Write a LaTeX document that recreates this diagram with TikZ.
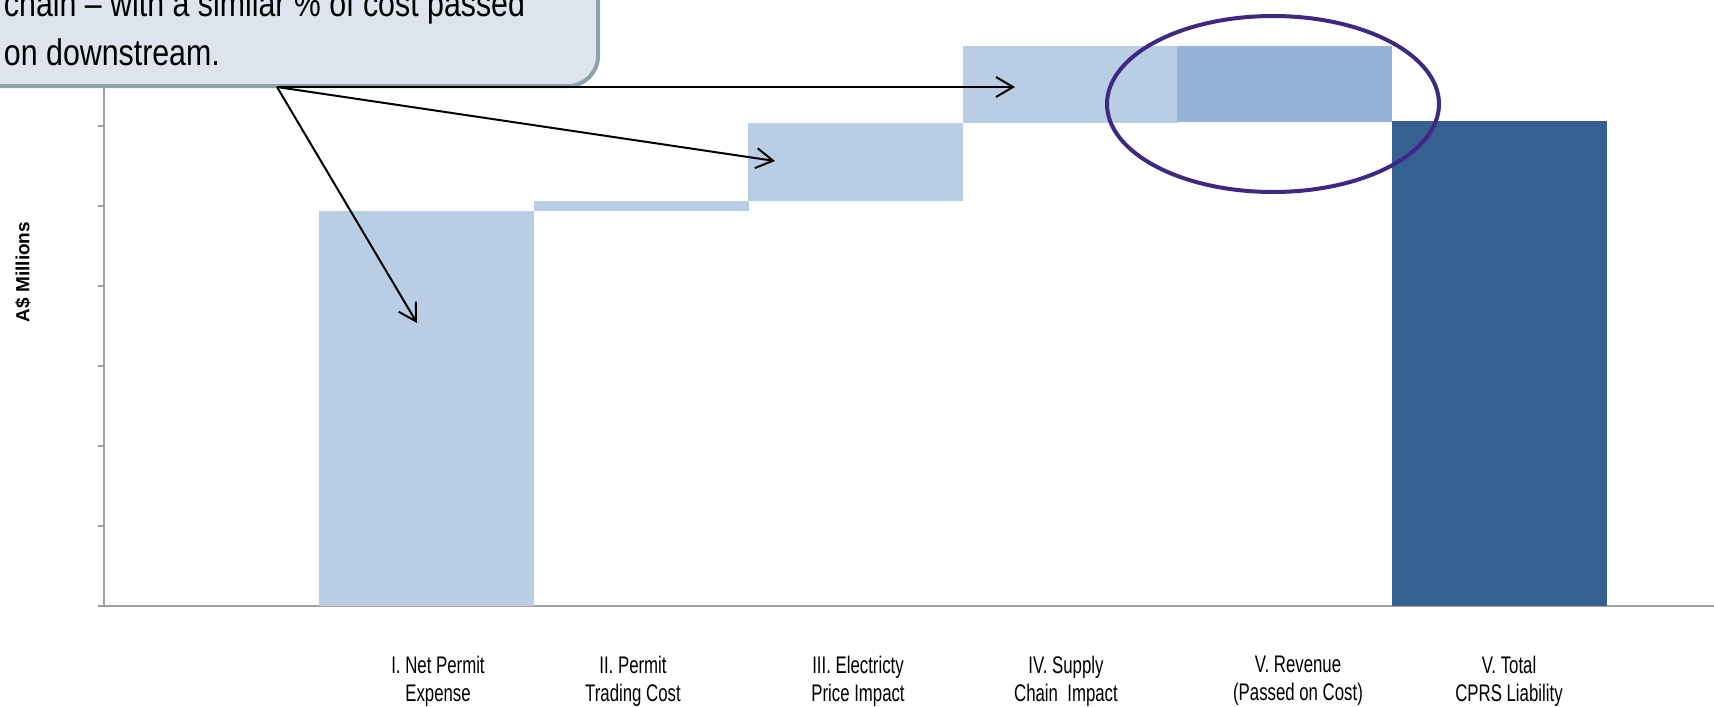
\documentclass[tikz,border=0pt]{standalone}
\usepackage{fontspec}
\setmainfont{Liberation Sans}
\newfontfamily\narrowfont[FakeStretch=0.82]{Liberation Sans}
\newfontfamily\labelfont[FakeStretch=0.70]{Liberation Sans}
\usetikzlibrary{arrows.meta}
\usepackage{xcolor}
\definecolor{barlight}{RGB}{185,205,229}
\definecolor{barmid}{RGB}{149,179,215}
\definecolor{bardark}{RGB}{55,96,146}
\definecolor{notefill}{RGB}{222,228,238}
\definecolor{noteedge}{RGB}{141,164,167}
\definecolor{ringpurple}{RGB}{62,40,132}
\definecolor{axisgray}{RGB}{160,160,160}

\begin{document}
\begin{tikzpicture}[x=1pt, y=-1pt,
    bar/.style={
        rectangle,
        inner sep=0pt,
        outer sep=0pt,
        minimum width=215pt,
        anchor=north west,
        fill=barlight
    },
    category/.style={
        align=center,
        font=\labelfont\fontsize{24}{28}\selectfont
    },
    >={Straight Barb[length=17pt,width=20pt]}
]
    \useasboundingbox (0,0) rectangle (1714,707);
    \clip (0,0) rectangle (1714,707);

    \draw[axisgray, line width=1.5pt] (104,46) -- (104,606) (98,606) -- (1714,606);
    \draw[axisgray, line width=1.2pt] (98,46) -- (104,46) (98,126) -- (104,126) (98,206) -- (104,206)
        (98,286) -- (104,286) (98,366) -- (104,366) (98,446) -- (104,446) (98,526) -- (104,526);

    \node (units) [rotate=90, font=\bfseries\fontsize{19}{22}\selectfont] at (23,272)
    {
        A\$ Millions
    };



    \node (net_permit_bar) [bar, minimum height=395pt] at (319,211) {};
    \node (permit_trading_bar) [bar, minimum height=10pt] at (534,201) {};
    \node (electricity_price_bar) [bar, minimum height=78pt] at (748,123) {};
    \node (supply_chain_bar) [bar, minimum height=77pt] at (963,46) {};
    \node (revenue_bar) [bar, fill=barmid, minimum height=76pt] at (1177,46) {};
    \node (total_liability_bar) [bar, fill=bardark, minimum height=485pt] at (1392,121) {};




    \node (net_permit_expense) [category] at (438,681)
    {
        I. Net Permit\\Expense
    };
    \node (permit_trading_cost) [category] at (633,681)
    {
        II. Permit\\Trading Cost
    };
    \node (electricity_price_impact) [category] at (858,681)
    {
        III. Electricty\\Price Impact
    };
    \node (supply_chain_impact) [category] at (1066,681)
    {
        IV. Supply\\Chain\ \ Impact
    };
    \node (revenue_passed_on) [category] at (1298,681)
    {
        V. Revenue\\(Passed on Cost)
    };
    \node (total_cprs_liability) [category] at (1509,681)
    {
        V. Total\\CPRS Liability
    };



    \node (note) [anchor=south east, rectangle, rounded corners=30pt, draw=noteedge, line width=4pt,
        fill=notefill, minimum width=628pt, minimum height=116pt, text width=560pt, inner xsep=0pt,
        align=flush left, font=\narrowfont\fontsize{37}{49}\selectfont] at (600,88)
    {
        chain – with a similar \% of cost passed\\on downstream.
    };

    \coordinate (note_foot) at (277,87);
    \coordinate (net_permit_tip) at (417,323);
    \coordinate (electricity_price_tip) at (775,161);
    \coordinate (supply_chain_tip) at (1015,87);


    \draw[->, line width=2pt] (note_foot) to (net_permit_tip);
    \draw[->, line width=2pt] (note_foot) to (electricity_price_tip);
    \draw[->, line width=2pt] (note_foot) to (supply_chain_tip);

    \draw[ringpurple, line width=4pt] (1273,104) ellipse [x radius=166pt, y radius=88pt];


\end{tikzpicture}
\end{document}
